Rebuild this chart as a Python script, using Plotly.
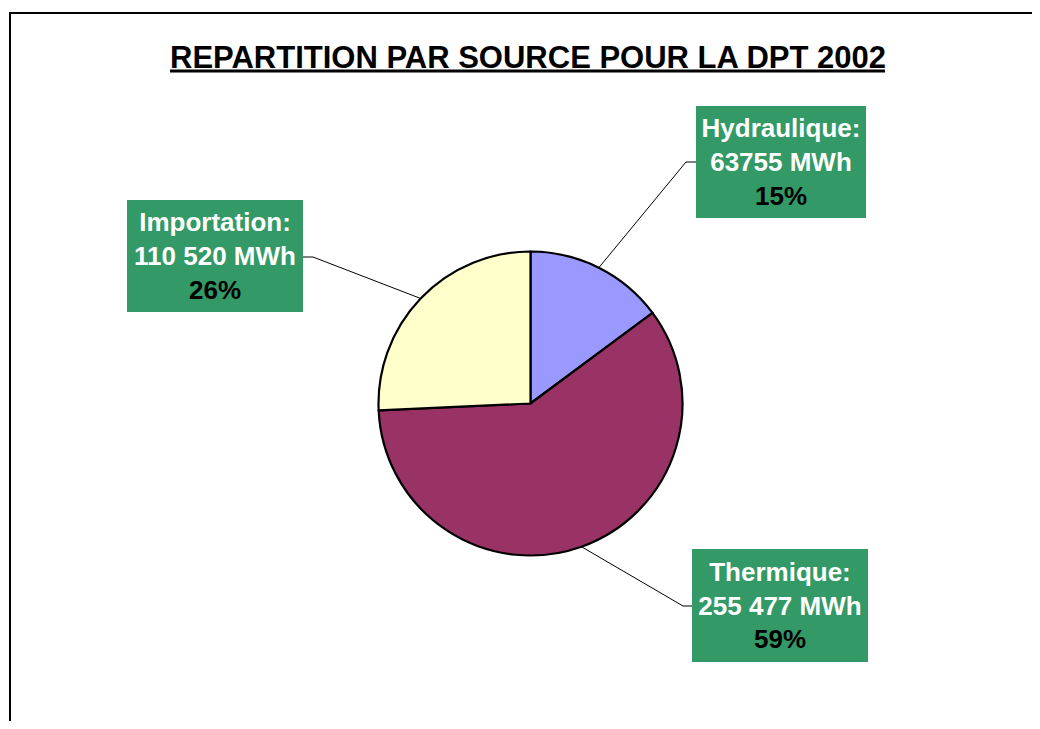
import math
import plotly.graph_objects as go

# ---- data ----
sources = ["Hydraulique", "Thermique", "Importation"]
values_mwh = [63755, 255477, 110520]
value_labels = ["63755 MWh", "255 477 MWh", "110 520 MWh"]
colors = ["#9999FF", "#993366", "#FFFFCC"]
title_text = "REPARTITION PAR SOURCE POUR LA DPT 2002"

# page has an 8px body margin; figure sized to fit the 1040x729 window
OFF = 8
W, H = 1040 - 2 * OFF, 729 - 2 * OFF
# pie geometry in page pixels
CX, CY, R = 530.5, 403.5, 152

def px(x):
    return (x - OFF) / W

def py(y):
    return 1 - (y - OFF) / H

fig = go.Figure()
fig.add_trace(go.Pie(
    labels=sources,
    values=values_mwh,
    sort=False,
    direction="clockwise",
    rotation=0,
    textinfo="none",
    hoverinfo="label+value+percent",
    marker=dict(colors=colors, line=dict(color="black", width=2.2)),
    domain=dict(x=[px(CX - R), px(CX + R)], y=[py(CY + R), py(CY - R)]),
    showlegend=False,
))

total = sum(values_mwh)
# label boxes (page pixel layout): x0, x1, y0, y1 ; elbow points
boxes = {
    "Hydraulique": (696, 866, 106, 218),
    "Thermique": (692, 868, 549, 662),
    "Importation": (127, 303, 200, 312),
}
elbows = {
    "Hydraulique": ((686, 162), (696, 162)),
    "Thermique": ((683, 606), (692, 606)),
    "Importation": ((313, 257), (303, 257)),
}

annotations = []
shapes = []
cum = 0
for name, v, vl in zip(sources, values_mwh, value_labels):
    frac = v / total
    mid = (cum + frac / 2) * 2 * math.pi
    cum += frac
    ex = CX + R * math.sin(mid)
    ey = CY - R * math.cos(mid)
    (bx0, bx1, by0, by1) = boxes[name]
    pct = round(frac * 100)
    text = (f"<b>{name}:</b><br><b>{vl}</b><br>"
            f"<b><span style='color:black'>{pct}%</span></b>")
    annotations.append(dict(
        x=px((bx0 + bx1) / 2), y=py((by0 + by1) / 2),
        xref="paper", yref="paper", xanchor="center", yanchor="middle",
        text=text, showarrow=False, align="center",
        width=bx1 - bx0, height=by1 - by0, borderpad=0, borderwidth=0,
        bgcolor="#339966",
        font=dict(family="Arial, Liberation Sans, sans-serif", size=26, color="white"),
    ))
    (e1, e2) = elbows[name]
    path = (f"M {px(ex)} {py(ey)} L {px(e1[0])} {py(e1[1])} "
            f"L {px(e2[0])} {py(e2[1])}")
    shapes.append(dict(type="path", xref="paper", yref="paper", path=path,
                       line=dict(color="black", width=1)))

# title
annotations.append(dict(
    x=px(527.5), y=py(57), xref="paper", yref="paper",
    xanchor="center", yanchor="middle", showarrow=False,
    text=f"<b>{title_text}</b>",
    font=dict(family="Arial, Liberation Sans, sans-serif", size=31, color="black"),
))
# title underline
shapes.append(dict(type="line", xref="paper", yref="paper",
                   x0=px(170), x1=px(885), y0=py(71), y1=py(71),
                   line=dict(color="black", width=3)))
# chart frame (top and left edges visible)
shapes.append(dict(type="line", xref="paper", yref="paper",
                   x0=px(9), x1=1.05, y0=py(13), y1=py(13),
                   line=dict(color="black", width=2)))
shapes.append(dict(type="line", xref="paper", yref="paper",
                   x0=px(10), x1=px(10), y0=py(12), y1=-0.05,
                   line=dict(color="black", width=2)))

fig.update_layout(
    width=W, height=H,
    margin=dict(l=0, r=0, t=0, b=0),
    paper_bgcolor="white", plot_bgcolor="white",
    annotations=annotations, shapes=shapes,
)

fig.write_html("out.html")
